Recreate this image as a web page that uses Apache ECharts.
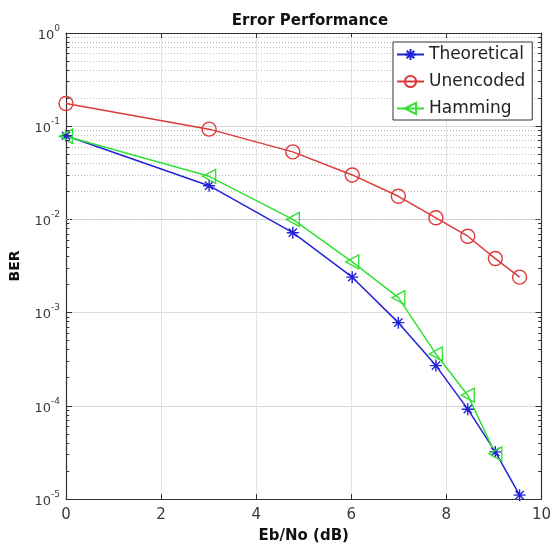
<!DOCTYPE html>
<html><head><meta charset="utf-8">
<script src="https://cdn.jsdelivr.net/npm/echarts@6/dist/echarts.min.js"></script>
<style>html,body{margin:0;padding:0;background:#fff}#c{width:554px;height:549px}</style>
</head><body><div id="c"></div>
<script>
// ---- data ----
const ebNo = [0, 3.01, 4.77, 6.02, 6.99, 7.78, 8.45, 9.03, 9.54];
const theoretical = [0.079, 0.023, 0.0072, 0.0024, 0.00078, 0.00027, 0.000092, 0.000032, 0.000011];
const unencoded = [0.175, 0.093, 0.053, 0.030, 0.0177, 0.0104, 0.0066, 0.0038, 0.0024];
const hamming = [0.078, 0.029, 0.0100, 0.0035, 0.00145, 0.00036, 0.00013, 0.0000305];
const seriesNames = ['Theoretical', 'Unencoded', 'Hamming'];
const xTickValues = [0, 2, 4, 6, 8, 10];
const yDecadeExps = [-5, -4, -3, -2, -1, 0];
const minorMultipliers = [2, 3, 4, 5, 6, 7, 8, 9];

const BLUE = '#2222d8', RED = '#dd3a3a', GREEN = '#33e033';
const FONT = 'DejaVu Sans';
const AXC = '#333333';

const pairs = (xs, ys) => ys.map((y, i) => [xs[i], y]);

// minor log positions (2..9 x 10^k)
const minorVals = [];
yDecadeExps.slice(0, -1).forEach(e => minorMultipliers.forEach(m => minorVals.push(m * Math.pow(10, e))));
const xMin = xTickValues[0], xMax = xTickValues[xTickValues.length - 1];

const starPath = 'path://M5,0L5,10M0,5L10,5M1.6,1.6L8.4,8.4M1.6,8.4L8.4,1.6';
const triLeftPath = 'path://M0,5L10,0L10,10Z';

const supLabel = v => {
  const e = Math.round(Math.log10(v));
  return '{b|10}{s|' + e + '}';
};

const chart = echarts.init(document.getElementById('c'), null, {renderer: 'canvas'});
chart.setOption({
  animation: false,
  backgroundColor: '#fff',
  textStyle: {fontFamily: FONT},
  title: {
    text: 'Error Performance', left: 305, top: 9, textAlign: 'center',
    textStyle: {fontFamily: FONT, fontSize: 15, fontWeight: 'bold', color: '#111'}
  },
  grid: {left: 66, right: 10, top: 33, bottom: 49},
  legend: {
    data: seriesNames, orient: 'vertical', left: 393, top: 42,
    backgroundColor: '#fff', borderColor: '#333', borderWidth: 1,
    padding: [4, 7, 3, 3], itemGap: 10, itemWidth: 27, itemHeight: 14,
    textStyle: {fontFamily: FONT, fontSize: 17, color: '#222'}
  },
  xAxis: [{
    type: 'value', min: xMin, max: xMax, interval: 2,
    name: 'Eb/No (dB)', nameLocation: 'middle', nameGap: 30,
    nameTextStyle: {fontFamily: FONT, fontSize: 15, fontWeight: 'bold', color: '#111'},
    axisLine: {show: true, onZero: false, lineStyle: {color: AXC, width: 1.2}},
    axisTick: {show: true, inside: true, length: 5, lineStyle: {color: AXC}},
    axisLabel: {fontFamily: FONT, fontSize: 15, color: '#3a3a3a', margin: 9},
    splitLine: {show: true, lineStyle: {color: '#e2e2e2', width: 1}}
  }, {
    type: 'value', position: 'top', min: xMin, max: xMax, interval: 2,
    axisLine: {show: true, onZero: false, lineStyle: {color: AXC, width: 1.2}},
    axisTick: {show: true, inside: true, length: 5, lineStyle: {color: AXC}},
    axisLabel: {show: false}, splitLine: {show: false}
  }],
  yAxis: [{
    type: 'log', logBase: 10, min: 1e-5, max: 1, interval: 1,
    name: 'BER', nameLocation: 'middle', nameGap: 44,
    nameTextStyle: {fontFamily: FONT, fontSize: 14, fontWeight: 'bold', color: '#111'},
    axisLine: {show: true, onZero: false, lineStyle: {color: AXC, width: 1.2}},
    axisTick: {show: true, inside: true, length: 6, lineStyle: {color: AXC}},
    axisLabel: {
      margin: 6, formatter: supLabel,
      rich: {
        b: {fontFamily: FONT, fontSize: 13, color: '#3a3a3a', lineHeight: 18, verticalAlign: 'bottom'},
        s: {fontFamily: FONT, fontSize: 9, color: '#3a3a3a', lineHeight: 8, verticalAlign: 'top'}
      }
    },
    splitLine: {show: true, lineStyle: {color: '#dadada', width: 1}}
  }, {
    type: 'log', logBase: 10, min: 1e-5, max: 1, interval: 1, position: 'right',
    axisLine: {show: true, onZero: false, lineStyle: {color: AXC, width: 1.2}},
    axisTick: {show: true, inside: true, length: 6, lineStyle: {color: AXC}},
    axisLabel: {show: false}, splitLine: {show: false}
  }],
  series: [
    {
      name: 'minorGrid', type: 'line', data: [], silent: true, z: 1,
      markLine: {
        silent: true, symbol: ['none', 'none'], label: {show: false}, z: 1,
        lineStyle: {type: [1, 2], color: '#bdbdbd', width: 1},
        data: minorVals.map(v => ({yAxis: v}))
      }
    },
    {
      name: 'minorTicks', type: 'line', data: [], silent: true, z: 4,
      markLine: {
        silent: true, symbol: ['none', 'none'], label: {show: false}, z: 4,
        lineStyle: {type: 'solid', color: AXC, width: 1},
        data: minorVals.flatMap(v => [
          [{coord: [xMin, v]}, {coord: [xMin + 0.07, v]}],
          [{coord: [xMax - 0.07, v]}, {coord: [xMax, v]}]
        ])
      }
    },
    {
      name: 'Theoretical', type: 'line', z: 3, data: pairs(ebNo, theoretical),
      symbol: starPath, symbolSize: 12,
      lineStyle: {color: BLUE, width: 1.5},
      itemStyle: {color: 'rgba(0,0,0,0)', borderColor: BLUE, borderWidth: 1.4}
    },
    {
      name: 'Unencoded', type: 'line', z: 3, data: pairs(ebNo, unencoded),
      symbol: 'circle', symbolSize: 14,
      lineStyle: {color: RED, width: 1.5},
      itemStyle: {color: 'rgba(0,0,0,0)', borderColor: RED, borderWidth: 1.4}
    },
    {
      name: 'Hamming', type: 'line', z: 3, data: pairs(ebNo, hamming),
      symbol: triLeftPath, symbolSize: [13, 14],
      lineStyle: {color: GREEN, width: 1.5},
      itemStyle: {color: 'rgba(0,0,0,0)', borderColor: GREEN, borderWidth: 1.4}
    }
  ]
});
</script></body></html>
